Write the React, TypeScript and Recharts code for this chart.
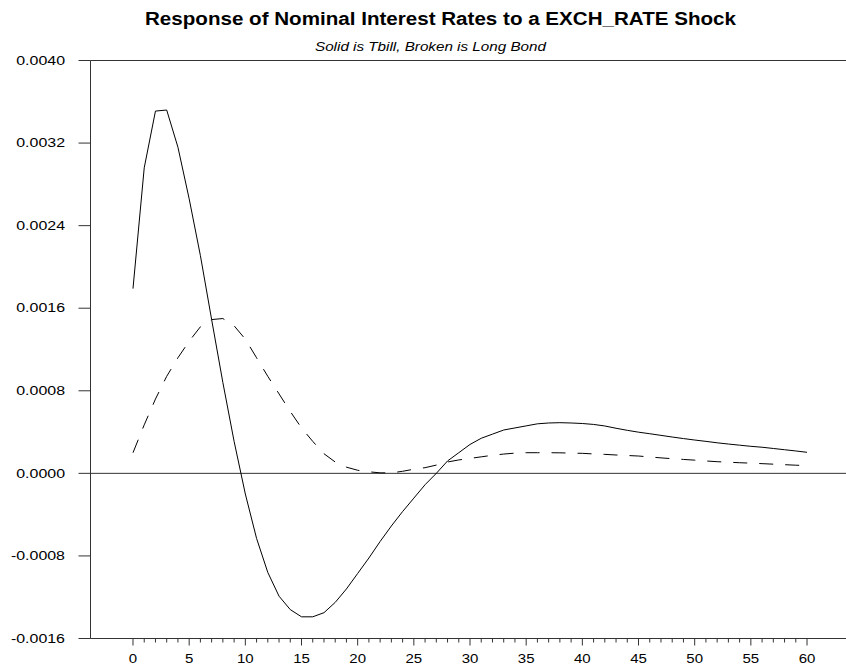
import React from 'react';
import { LineChart, Line, XAxis, YAxis, ReferenceLine } from 'recharts';

// Horizon (periods after the shock)
const steps = [
  0, 1, 2, 3, 4, 5, 6, 7, 8, 9,
  10, 11, 12, 13, 14, 15, 16, 17, 18, 19,
  20, 21, 22, 23, 24, 25, 26, 27, 28, 29,
  30, 31, 32, 33, 34, 35, 36, 37, 38, 39,
  40, 41, 42, 43, 44, 45, 46, 47, 48, 49,
  50, 51, 52, 53, 54, 55, 56, 57, 58, 59,
  60,
];

// Tbill response (solid)
const tbill = [
  0.00179, 0.00296, 0.00351, 0.00352, 0.00316, 0.00266, 0.00211, 0.00149, 0.00088, 0.00031,
  -0.0002, -0.00063, -0.00096, -0.00119, -0.00132, -0.00139, -0.00139, -0.00135, -0.00125, -0.00112,
  -0.00097, -0.00082, -0.00066, -0.00051, -0.00037, -0.00024, -0.00011, 0.0, 0.00012, 0.0002,
  0.00028, 0.00034, 0.00038, 0.00042, 0.00044, 0.00046, 0.00048, 0.000488, 0.000491, 0.000488,
  0.000483, 0.000474, 0.000459, 0.000437, 0.000417, 0.000399, 0.000384, 0.000368, 0.000352, 0.000337,
  0.000323, 0.00031, 0.000296, 0.000284, 0.000273, 0.000262, 0.000253, 0.000241, 0.000229, 0.000217,
  0.000204,
];

// Long bond response (broken)
const longBond = [
  0.0002, 0.00047, 0.00072, 0.00094, 0.00112, 0.00128, 0.00142, 0.00149, 0.0015, 0.00143,
  0.0013, 0.00112, 0.00094, 0.00077, 0.0006, 0.00044, 0.00031, 0.00019, 0.00011, 0.00006,
  0.00003, 0.000015, 0.000005, 0.000005, 0.00002, 0.00004, 0.000055, 0.00008, 0.00011, 0.00013,
  0.000145, 0.00016, 0.000175, 0.000187, 0.000196, 0.0002, 0.0002, 0.0002, 0.000199, 0.000196,
  0.000194, 0.000188, 0.000184, 0.000178, 0.000173, 0.000168, 0.000159, 0.00015, 0.000142, 0.000135,
  0.000128, 0.00012, 0.000113, 0.000108, 0.000103, 0.000099, 0.000094, 0.000089, 0.000084, 0.000079,
  0.000075,
];

const yTicks = [-0.0016, -0.0008, 0, 0.0008, 0.0016, 0.0024, 0.0032, 0.004];
const xMajorTicks = [0, 5, 10, 15, 20, 25, 30, 35, 40, 45, 50, 55, 60];

const titleText = 'Response of Nominal Interest Rates to a EXCH_RATE Shock';
const subtitleText = 'Solid is Tbill, Broken is Long Bond';

const data = steps.map((s, i) => ({ step: s, tbill: tbill[i], longBond: longBond[i] }));

const FONT = '"Liberation Sans", Arial, Helvetica, sans-serif';
const AXIS = '#333';

const XTick = (props: any) => {
  const { x, y, payload } = props;
  const major = xMajorTicks.includes(payload.value);
  return (
    <g>
      <line x1={x} x2={x} y1={y} y2={y + (major ? 7 : 4)} stroke={AXIS} strokeWidth={1} />
      {major && (
        <text
          transform={`translate(${x},${y + 24}) scale(1.25,1)`}
          textAnchor="middle"
          fontSize={12}
          fontFamily={FONT}
          fill="#000"
        >
          {payload.value}
        </text>
      )}
    </g>
  );
};

const YTick = (props: any) => {
  const { x, y, payload } = props;
  return (
    <text
      transform={`translate(${x},${y}) scale(1.33,1)`}
      textAnchor="end"
      dy="0.35em"
      fontSize={12}
      fontFamily={FONT}
      fill="#000"
    >
      {Number(payload.value).toFixed(4)}
    </text>
  );
};

export default function App() {
  return (
    <div style={{ position: 'absolute', left: 0, top: 0, width: 846, height: 670, background: '#fff' }}>
      <LineChart
        width={846}
        height={670}
        data={data}
        margin={{ top: 60.5, right: 0, bottom: 0, left: 0.5 }}
      >
        <XAxis
          dataKey="step"
          type="number"
          domain={[-3.783, 63.47]}
          allowDataOverflow
          ticks={steps}
          interval={0}
          tickSize={0}
          tickMargin={0}
          tickLine={false}
          axisLine={{ stroke: AXIS, strokeWidth: 1 }}
          tick={<XTick />}
          height={31.5}
        />
        <YAxis
          type="number"
          domain={[-0.0016, 0.004]}
          ticks={yTicks}
          interval={0}
          width={90}
          tickSize={12}
          tickMargin={13.5}
          tickLine={{ stroke: AXIS, strokeWidth: 1 }}
          axisLine={{ stroke: AXIS, strokeWidth: 1 }}
          tick={<YTick />}
          allowDataOverflow
        />
        <ReferenceLine y={0.004} stroke={AXIS} strokeWidth={1} />
        <ReferenceLine y={0} stroke={AXIS} strokeWidth={1} />
        <Line
          type="linear"
          dataKey="tbill"
          stroke="#000"
          strokeWidth={1}
          dot={false}
          isAnimationActive={false}
        />
        <Line
          type="linear"
          dataKey="longBond"
          stroke="#000"
          strokeWidth={1}
          strokeDasharray="14 12"
          dot={false}
          isAnimationActive={false}
        />
      </LineChart>
      <svg
        width={846}
        height={670}
        style={{ position: 'absolute', left: 0, top: 0, pointerEvents: 'none' }}
      >
        <text
          x={440.5}
          y={25}
          textAnchor="middle"
          fontSize={18}
          fontWeight="bold"
          fontFamily={FONT}
          textLength={591}
          lengthAdjust="spacingAndGlyphs"
          fill="#000"
        >
          {titleText}
        </text>
        <text
          x={430.5}
          y={51}
          textAnchor="middle"
          fontSize={12}
          fontStyle="italic"
          fontFamily={FONT}
          textLength={231}
          lengthAdjust="spacingAndGlyphs"
          fill="#000"
        >
          {subtitleText}
        </text>
      </svg>
    </div>
  );
}
